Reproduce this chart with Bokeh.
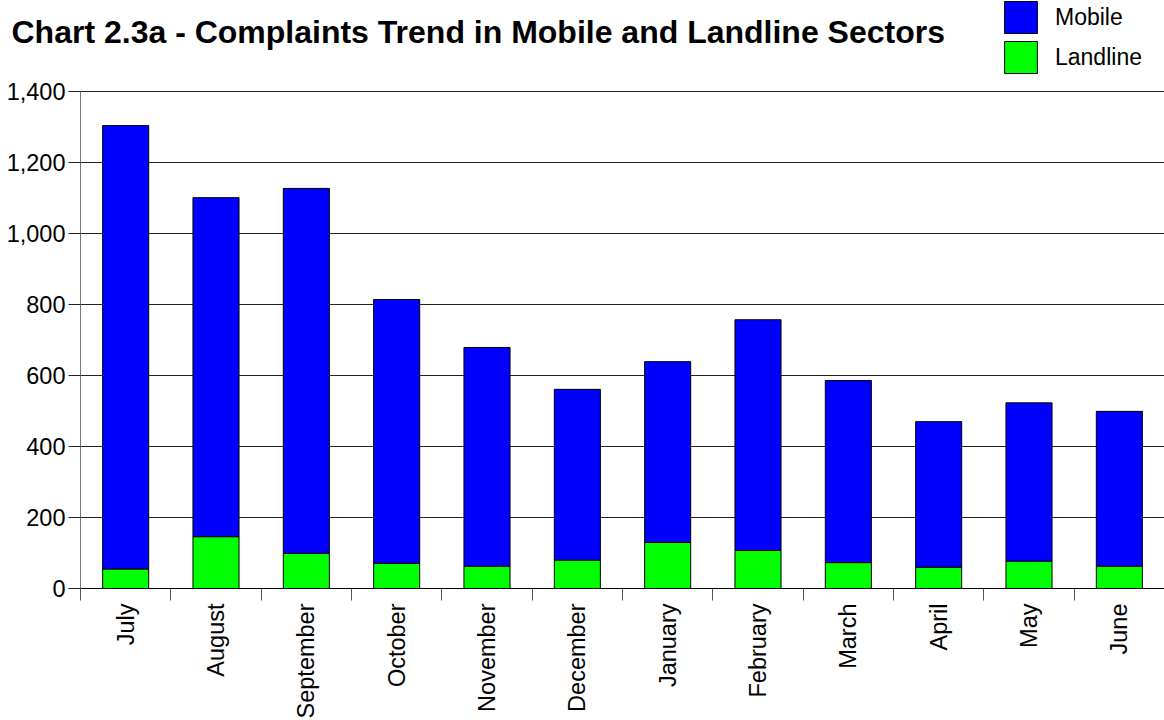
from math import pi
from bokeh.plotting import figure
from bokeh.models import (ColumnDataSource, Range1d, FixedTicker, NumeralTickFormatter,
                          Legend, LegendItem, Label)
from bokeh.embed import file_html
from bokeh.resources import INLINE

months = ["July", "August", "September", "October", "November", "December",
          "January", "February", "March", "April", "May", "June"]
landline = [55, 146, 99, 71, 63, 80, 130, 107, 73, 60, 77, 63]
mobile = [1249, 955, 1028, 743, 616, 481, 509, 650, 513, 410, 446, 436]
y_ticks = [0, 200, 400, 600, 800, 1000, 1200, 1400]
title_text = "Chart 2.3a - Complaints Trend in Mobile and Landline Sectors"

FONT = "Liberation Sans"

# page layout (pixels)
W, H = 1164, 720
AX_LEFT, AX_TOP, AX_BOTTOM = 80, 91, 588
n = len(months)
y_max = y_ticks[-1]
x_per_px = n / (W - AX_LEFT)
y_per_px = y_max / (AX_BOTTOM - AX_TOP)

xs = [i + 0.5 for i in range(n)]
source = ColumnDataSource(dict(x=xs, landline=landline, mobile=mobile))

p = figure(width=W, height=H, output_backend="svg", toolbar_location=None, title=None,
           x_range=Range1d(-AX_LEFT * x_per_px, n),
           y_range=Range1d(-(H - AX_BOTTOM) * y_per_px, y_max + AX_TOP * y_per_px),
           min_border_left=0, min_border_right=0, min_border_top=0, min_border_bottom=0)
p.outline_line_color = None
p.background_fill_color = "white"
p.border_fill_color = "white"

rs = p.vbar_stack(["landline", "mobile"], x="x", width=0.51, source=source,
                  fill_color=["#00ff00", "#0000ff"], line_color="black", line_width=1)

# x axis: labels at centres, tick marks at category boundaries
xa = p.xaxis[0]
xa.fixed_location = 0
xa.bounds = (0, n)
xa.ticker = FixedTicker(ticks=xs, minor_ticks=list(range(n + 1)))
xa.major_label_overrides = {x: m for x, m in zip(xs, months)}
xa.major_label_orientation = pi / 2
xa.major_tick_line_color = None
xa.major_tick_out = 12
xa.major_tick_in = 0
xa.minor_tick_out = 12
xa.minor_tick_in = 0
xa.minor_tick_line_color = "#555555"
xa.axis_line_color = "black"
xa.major_label_standoff = 3
xa.major_label_text_font = FONT
xa.major_label_text_font_size = "23.5px"
xa.major_label_text_color = "black"

ya = p.yaxis[0]
ya.fixed_location = 0
ya.bounds = (0, y_max)
ya.ticker = FixedTicker(ticks=y_ticks)
ya.formatter = NumeralTickFormatter(format="0,0")
ya.major_tick_out = 12
ya.major_tick_in = 0
ya.minor_tick_line_color = None
ya.major_tick_line_color = "#222222"
ya.axis_line_color = "#777777"
ya.major_label_standoff = 3
ya.major_label_text_font = FONT
ya.major_label_text_font_size = "23.5px"
ya.major_label_text_color = "black"

p.xgrid.grid_line_color = None
p.ygrid.grid_line_color = "#222222"
p.ygrid.ticker = FixedTicker(ticks=y_ticks)
p.ygrid.cross_bounds = (0, n)

legend = Legend(items=[LegendItem(label="Mobile", renderers=[rs[1]]),
                       LegendItem(label="Landline", renderers=[rs[0]])],
                location=(1000, H - 77), orientation="vertical",
                glyph_width=41, glyph_height=40, spacing=-3, padding=0, margin=0,
                label_standoff=14, label_text_font=FONT, label_text_font_size="23px",
                label_text_color="black",
                border_line_color=None, background_fill_alpha=0)
p.add_layout(legend)

title = Label(x=11, y=H - 31, x_units="screen", y_units="screen", text=title_text,
              text_font=FONT, text_font_size="32px", text_font_style="bold",
              text_baseline="alphabetic", text_color="black")
p.add_layout(title)

open("out.html", "w").write(file_html(p, INLINE))
